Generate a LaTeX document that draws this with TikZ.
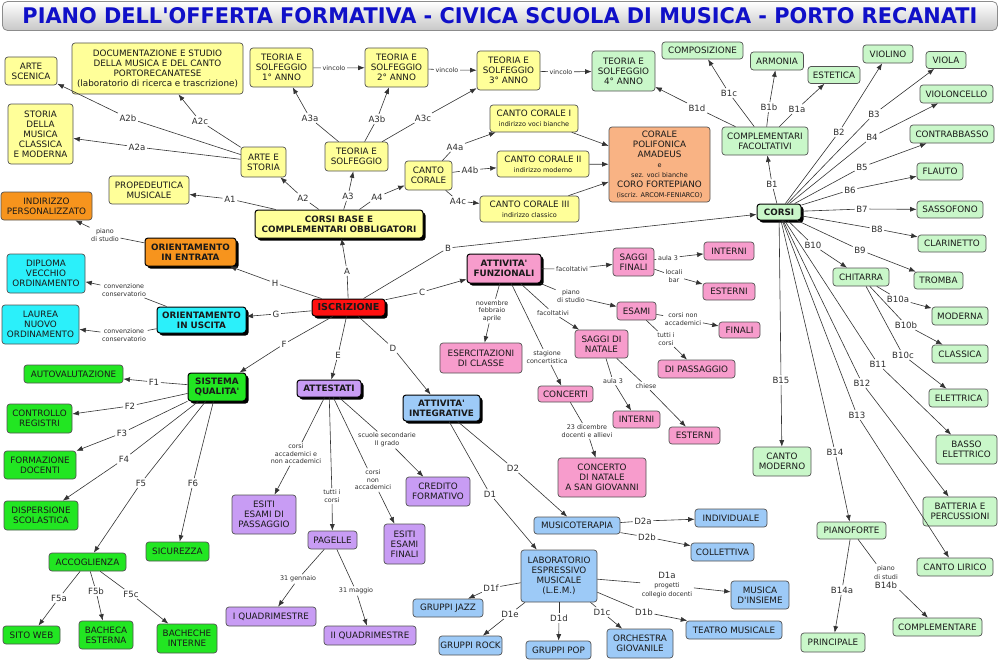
\documentclass[tikz,border=0pt]{standalone}
\usepackage{fontspec}
\usepackage{graphicx}
\setmainfont{DejaVu Sans}
\newfontfamily\dvs{DejaVu Sans}
\usetikzlibrary{arrows.meta,shadows}
\definecolor{cY}{HTML}{FFFF99}
\definecolor{cG}{HTML}{C9F7C9}
\definecolor{cBG}{HTML}{22E622}
\definecolor{cP}{HTML}{F79CCC}
\definecolor{cV}{HTML}{C89CF4}
\definecolor{cB}{HTML}{9DCAF7}
\definecolor{cC}{HTML}{2BF0FA}
\definecolor{cO}{HTML}{F7941D}
\definecolor{cS}{HTML}{F9B384}
\definecolor{cR}{HTML}{FF1010}
\definecolor{cT}{HTML}{1010C8}
\newcommand\myfN{\dvs\fontsize{8.8}{10}\selectfont}
\newcommand\myfB{\dvs\fontsize{8.8}{10}\selectfont\bfseries}
\newcommand\myfL{\dvs\fontsize{8.6}{9}\selectfont}
\newcommand\myfS{\dvs\fontsize{6.4}{7.6}\selectfont}
\newcommand\myfT{\dvs\fontsize{6.5}{7.6}\selectfont}
\newcommand\mknode[7]{\node[#1,minimum width=#5pt,minimum height=#6pt] (#2) at (#3,#4) {#7};}
\newcommand\lk[5][lab]{\node[#1] (L-#2-#3) at (#4) {#5}; \draw[ln] (#2) -- (L-#2-#3); \draw[arr] (L-#2-#3) -- (#3);}
\tikzset{
  box/.style={draw=black!68, rounded corners=3pt, align=center, inner sep=1pt, text=black!90, font=\myfN, line width=0.7pt},
  main/.style={font=\myfB, draw=black, line width=1pt, drop shadow={shadow xshift=2.5pt, shadow yshift=-2.5pt, fill=black, opacity=1}},
  yel/.style={box, fill=cY},
  grn/.style={box, fill=cG},
  bgr/.style={box, fill=cBG},
  pnk/.style={box, fill=cP},
  vio/.style={box, fill=cV},
  blu/.style={box, fill=cB},
  cya/.style={box, fill=cC},
  org/.style={box, fill=cO},
  sal/.style={box, fill=cS},
  red/.style={box, fill=cR},
  lab/.style={font=\myfL, text=black!82, inner sep=1.5pt, align=center},
  slab/.style={lab, font=\myfS},
  ln/.style={draw=black!80, line width=0.6pt},
  arr/.style={ln, -{Latex[length=6.5pt,width=5pt]}}
}
\begin{document}
\begin{tikzpicture}[x=1pt,y=-1pt]
\useasboundingbox (0,0) rectangle (1000,661);
% title
\node[draw=black!45, rounded corners=5pt, top color=white, bottom color=black!22, minimum width=995pt, minimum height=29pt, line width=0.8pt] (title) at (500,16) {};
\node[inner sep=0pt] (titletext) at (500,15.5) {\resizebox{955pt}{16pt}{\dvs\bfseries\color{cT}PIANO DELL'OFFERTA FORMATIVA - CIVICA SCUOLA DI MUSICA - PORTO RECANATI}};
% ---------- yellow
\mknode{yel}{artescen}{31}{71}{52}{28}{ARTE\\SCENICA}
\mknode{yel}{docum}{157.5}{68.5}{171}{51}{DOCUMENTAZIONE E STUDIO\\DELLA MUSICA E DEL CANTO\\PORTORECANATESE\\(laboratorio di ricerca e trascrizione)}
\mknode{yel}{storia}{40.5}{134}{65}{60}{STORIA\\DELLA\\MUSICA\\CLASSICA\\E MODERNA}
\mknode{yel}{proped}{149}{190}{80}{28}{PROPEDEUTICA\\MUSICALE}
\mknode{yel}{artestoria}{263.5}{162}{45}{30}{ARTE E\\STORIA}
\mknode{yel}{t1}{281.5}{67.5}{63}{39}{TEORIA E\\SOLFEGGIO\\1° ANNO}
\mknode{yel}{t2}{396.5}{67.5}{63}{39}{TEORIA E\\SOLFEGGIO\\2° ANNO}
\mknode{yel}{t3}{508.5}{70.5}{63}{39}{TEORIA E\\SOLFEGGIO\\3° ANNO}
\mknode{yel}{teoria}{356.5}{156.5}{63}{29}{TEORIA E\\SOLFEGGIO}
\mknode{yel}{cantocor}{428.5}{175.5}{47}{29}{CANTO\\CORALE}
\mknode{yel}{cc1}{534}{118.5}{88}{27}{CANTO CORALE I\\\myfT indirizzo voci bianche}
\mknode{yel}{cc2}{543}{164}{92}{26}{CANTO CORALE II\\\myfT indirizzo moderno}
\mknode{yel}{cc3}{529.5}{209}{99}{26}{CANTO CORALE III\\\myfT indirizzo classico}
\mknode{yel,main}{corsibase}{339}{224}{168}{28}{CORSI BASE E\\COMPLEMENTARI OBBLIGATORI}
\mknode{sal}{corale}{659.5}{164.5}{101}{75}{CORALE\\POLIFONICA\\AMADEUS\\\myfT e\\\myfT sez. voci bianche\\CORO FORTEPIANO\\\myfT (iscriz. ARCOM-FENIARCO)}
% ---------- light green
\mknode{grn}{t4}{623.5}{71}{63}{40}{TEORIA E\\SOLFEGGIO\\4° ANNO}
\mknode{grn}{compos}{702.5}{50.5}{81}{17}{COMPOSIZIONE}
\mknode{grn}{armonia}{777}{61}{53}{18}{ARMONIA}
\mknode{grn}{estetica}{834}{75}{52}{17}{ESTETICA}
\mknode{grn}{compfac}{765}{141}{86}{28}{COMPLEMENTARI\\FACOLTATIVI}
\mknode{grn}{violino}{888}{54}{50}{18}{VIOLINO}
\mknode{grn}{viola}{946}{60}{40}{17}{VIOLA}
\mknode{grn}{violonc}{956.5}{94}{73}{18}{VIOLONCELLO}
\mknode{grn}{contrab}{952}{134}{84}{18}{CONTRABBASSO}
\mknode{grn}{flauto}{940}{171.5}{46}{17}{FLAUTO}
\mknode{grn}{sassof}{950}{209.5}{66}{17}{SASSOFONO}
\mknode{grn,main}{corsi}{779}{212}{44}{16}{CORSI}
\mknode{grn}{clarin}{952}{243.5}{68}{17}{CLARINETTO}
\mknode{grn}{tromba}{938.5}{280.5}{49}{17}{TROMBA}
\mknode{grn}{chitarra}{861}{277}{56}{18}{CHITARRA}
\mknode{grn}{moderna}{960}{316}{56}{18}{MODERNA}
\mknode{grn}{classica}{960}{354}{56}{18}{CLASSICA}
\mknode{grn}{elettrica}{958.5}{398}{59}{18}{ELETTRICA}
\mknode{grn}{basso}{966.5}{449.5}{61}{29}{BASSO\\ELETTRICO}
\mknode{grn}{cantomod}{782}{461.5}{58}{29}{CANTO\\MODERNO}
\mknode{grn}{batteria}{960}{511.5}{74}{29}{BATTERIA E\\PERCUSSIONI}
\mknode{grn}{pianof}{851.5}{530.5}{69}{17}{PIANOFORTE}
\mknode{grn}{cantolir}{955}{567}{76}{18}{CANTO LIRICO}
\mknode{grn}{complem}{937.5}{627}{89}{18}{COMPLEMENTARE}
\mknode{grn}{princip}{833}{642.5}{64}{19}{PRINCIPALE}
% ---------- pink
\mknode{pnk,main}{attfunz}{504}{268.5}{74}{29}{ATTIVITA'\\FUNZIONALI}
\mknode{pnk}{esercit}{481}{358}{82}{30}{ESERCITAZIONI\\DI CLASSE}
\mknode{pnk}{saggifin}{633.5}{262}{41}{28}{SAGGI\\FINALI}
\mknode{pnk}{intern1}{729}{251}{50}{18}{INTERNI}
\mknode{pnk}{estern1}{729}{291.5}{52}{17}{ESTERNI}
\mknode{pnk}{esami}{636.5}{311}{39}{18}{ESAMI}
\mknode{pnk}{finali}{739.5}{330}{41}{16}{FINALI}
\mknode{pnk}{saggnat}{601.5}{344}{53}{28}{SAGGI DI\\NATALE}
\mknode{pnk}{dipass}{696.5}{369}{77}{18}{DI PASSAGGIO}
\mknode{pnk}{concerti}{565.5}{394}{55}{16}{CONCERTI}
\mknode{pnk}{intern2}{636.5}{419.5}{47}{17}{INTERNI}
\mknode{pnk}{estern2}{694.5}{435.5}{51}{17}{ESTERNI}
\mknode{pnk}{concnat}{602}{477.5}{88}{39}{CONCERTO\\DI NATALE\\A SAN GIOVANNI}
% ---------- purple
\mknode{vio,main}{attest}{329}{388.5}{64}{17}{ATTESTATI}
\mknode{vio}{esitipass}{264}{514.5}{64}{39}{ESITI\\ESAMI DI\\PASSAGGIO}
\mknode{vio}{credito}{438}{491.5}{64}{29}{CREDITO\\FORMATIVO}
\mknode{vio}{pagelle}{332.5}{540}{49}{18}{PAGELLE}
\mknode{vio}{esitifin}{404.5}{544}{41}{40}{ESITI\\ESAMI\\FINALI}
\mknode{vio}{quad1}{271}{616.5}{90}{19}{I QUADRIMESTRE}
\mknode{vio}{quad2}{370}{635.5}{92}{19}{II QUADRIMESTRE}
% ---------- blue
\mknode{blu,main}{attint}{441.5}{408}{77}{26}{ATTIVITA'\\INTEGRATIVE}
\mknode{blu}{musicot}{577}{525.5}{86}{17}{MUSICOTERAPIA}
\mknode{blu}{individ}{731}{518}{72}{18}{INDIVIDUALE}
\mknode{blu}{collett}{722.5}{552}{63}{18}{COLLETTIVA}
\mknode{blu}{lem}{559}{576}{76}{52}{LABORATORIO\\ESPRESSIVO\\MUSICALE\\(L.E.M.)}
\mknode{blu}{musins}{760}{595}{58}{28}{MUSICA\\D'INSIEME}
\mknode{blu}{teatro}{734}{630}{96}{18}{TEATRO MUSICALE}
\mknode{blu}{orch}{640}{643.5}{66}{29}{ORCHESTRA\\GIOVANILE}
\mknode{blu}{gpop}{558.5}{650}{65}{18}{GRUPPI POP}
\mknode{blu}{gjazz}{448}{608}{70}{18}{GRUPPI JAZZ}
\mknode{blu}{grock}{470.5}{645.5}{63}{19}{GRUPPI ROCK}
% ---------- red / orange / cyan
\mknode{red,main}{iscr}{348.5}{307.5}{73}{17}{\fontsize{9.6}{10}\selectfont ISCRIZIONE}
\mknode{org}{indir}{46.5}{206}{91}{28}{INDIRIZZO\\PERSONALIZZATO}
\mknode{org,main}{orentr}{190.5}{252}{91}{28}{ORIENTAMENTO\\IN ENTRATA}
\mknode{cya}{diploma}{46}{273.5}{78}{39}{DIPLOMA\\VECCHIO\\ORDINAMENTO}
\mknode{cya}{laurea}{40.5}{324.5}{77}{39}{LAUREA\\NUOVO\\ORDINAMENTO}
\mknode{cya,main}{orusc}{201.5}{320}{89}{26}{ORIENTAMENTO\\IN USCITA}
% ---------- bright green
\mknode{bgr,main}{sistema}{217}{387}{58}{28}{SISTEMA\\QUALITA'}
\mknode{bgr}{autoval}{73.5}{374}{99}{18}{AUTOVALUTAZIONE}
\mknode{bgr}{controllo}{39.5}{418.5}{65}{29}{CONTROLLO\\REGISTRI}
\mknode{bgr}{formaz}{40}{465}{72}{28}{FORMAZIONE\\DOCENTI}
\mknode{bgr}{dispers}{41}{515.5}{74}{29}{DISPERSIONE\\SCOLASTICA}
\mknode{bgr}{accogl}{87.5}{562}{77}{18}{ACCOGLIENZA}
\mknode{bgr}{sicur}{177.5}{551.5}{63}{19}{SICUREZZA}
\mknode{bgr}{sitoweb}{31.5}{635}{57}{18}{SITO WEB}
\mknode{bgr}{bachest}{106}{635}{54}{28}{BACHECA\\ESTERNA}
\mknode{bgr}{bachint}{187}{638.5}{60}{29}{BACHECHE\\INTERNE}
% ================= connectors
% A
\lk{iscr}{corsibase}{347,271}{A}
\lk{corsibase}{proped}{230,199}{A1}
\lk{corsibase}{artestoria}{303,198}{A2}
\lk{corsibase}{teoria}{348,196}{A3}
\lk{corsibase}{cantocor}{377,197}{A4}
\lk{artestoria}{storia}{137,147}{A2a}
\lk{artestoria}{artescen}{128,118}{A2b}
\lk{artestoria}{docum}{200,121}{A2c}
\lk{teoria}{t1}{310,118}{A3a}
\lk{teoria}{t2}{377,119}{A3b}
\lk{teoria}{t3}{423,118}{A3c}
\lk[slab]{t1}{t2}{334,68}{vincolo}
\lk[slab]{t2}{t3}{447,70}{vincolo}
\lk[slab]{t3}{t4}{561,72}{vincolo}
\lk{cantocor}{cc1}{455,147}{A4a}
\lk{cantocor}{cc2}{470,170}{A4b}
\lk{cantocor}{cc3}{458,201}{A4c}
\draw[arr] (cc1) -- (corale);
\draw[arr] (cc2) -- (corale);
\draw[arr] (cc3) -- (corale);
% B
\lk{iscr}{corsi}{448,248}{B}
\lk{corsi}{compfac}{772,184}{B1}
\lk{compfac}{estetica}{797,109}{B1a}
\lk{compfac}{armonia}{769,107}{B1b}
\lk{compfac}{compos}{729,93}{B1c}
\lk{compfac}{t4}{697,108}{B1d}
\lk{corsi}{violino}{839,132}{B2}
\lk{corsi}{viola}{874,114}{B3}
\lk{corsi}{violonc}{872,137}{B4}
\lk{corsi}{contrab}{862,167}{B5}
\lk{corsi}{flauto}{850,190}{B6}
\lk{corsi}{sassof}{862,209}{B7}
\lk{corsi}{clarin}{877,229}{B8}
\lk{corsi}{tromba}{860,250}{B9}
\lk{corsi}{chitarra}{813,245}{B10}
\lk{chitarra}{moderna}{898,299}{B10a}
\lk{chitarra}{classica}{906,325}{B10b}
\lk{chitarra}{elettrica}{903,355}{B10c}
\lk{corsi}{basso}{878,364}{B11}
\lk{corsi}{batteria}{862,383}{B12}
\lk{corsi}{cantolir}{857,415}{B13}
\lk{corsi}{pianof}{835,452}{B14}
\lk{corsi}{cantomod}{781,380}{B15}
\lk{pianof}{princip}{842,590}{B14a}
\lk{pianof}{complem}{886,577}{\myfS piano\\\myfS di studi\\\myfL B14b}
% C
\lk{iscr}{attfunz}{422,292}{C}
\lk[slab]{attfunz}{saggifin}{572,269}{facoltativi}
\lk[slab]{saggifin}{intern1}{668,258}{aula 3}
\lk[slab]{saggifin}{estern1}{674,276}{locali\\bar}
\lk[slab]{attfunz}{esami}{571,296}{piano\\di studio}
\lk[slab]{esami}{finali}{683,319}{corsi non\\accademici}
\lk[slab]{esami}{dipass}{666,339}{tutti i\\corsi}
\lk[slab]{attfunz}{saggnat}{553,313}{facoltativi}
\lk[slab]{saggnat}{intern2}{613,381}{aula 3}
\lk[slab]{saggnat}{estern2}{646,386}{chiese}
\lk[slab]{attfunz}{concerti}{547,357}{stagione\\concertistica}
\lk[slab]{concerti}{concnat}{587,431}{23 dicembre\\docenti e allievi}
\lk[slab]{attfunz}{esercit}{492,311}{novembre\\febbraio\\aprile}
% D
\lk{iscr}{attint}{393,348}{D}
\lk{attint}{lem}{490,494}{D1}
\lk{attint}{musicot}{513,468}{D2}
\lk{musicot}{individ}{643,521}{D2a}
\lk{musicot}{collett}{647,537}{D2b}
\lk{lem}{musins}{667,585}{\myfL D1a\\\myfS progetti\\\myfS collegio docenti}
\lk{lem}{teatro}{644,612}{D1b}
\lk{lem}{orch}{602,612}{D1c}
\lk{lem}{gpop}{559,618}{D1d}
\lk{lem}{grock}{510,614}{D1e}
\lk{lem}{gjazz}{491,588}{D1f}
% E
\lk{iscr}{attest}{338,355}{E}
\lk[slab]{attest}{esitipass}{296,454}{corsi\\accademici e\\non accademici}
\lk[slab]{attest}{pagelle}{332,496}{tutti i\\corsi}
\lk[slab]{attest}{esitifin}{373,480}{corsi\\non\\accademici}
\lk[slab]{attest}{credito}{387,440}{scuole secondarie\\II grado}
\lk[slab]{pagelle}{quad1}{298,579}{31 gennaio}
\lk[slab]{pagelle}{quad2}{356,591}{31 maggio}
% F
\lk{iscr}{sistema}{284,344}{F}
\lk{sistema}{autoval}{154,382}{F1}
\lk{sistema}{controllo}{130,406}{F2}
\lk{sistema}{formaz}{122,433}{F3}
\lk{sistema}{dispers}{124,459}{F4}
\lk{sistema}{accogl}{141,483}{F5}
\lk{sistema}{sicur}{193,483}{F6}
\lk{accogl}{sitoweb}{59,598}{F5a}
\lk{accogl}{bachest}{96,591}{F5b}
\lk{accogl}{bachint}{131,594}{F5c}
% G H
\lk{iscr}{orusc}{276,314}{G}
\lk[slab]{orusc}{diploma}{124,290}{convenzione\\conservatorio}
\lk[slab]{orusc}{laurea}{124,335}{convenzione\\conservatorio}
\lk{iscr}{orentr}{275,283}{H}
\lk[slab]{orentr}{indir}{105,235}{piano\\di studio}
\end{tikzpicture}
\end{document}
